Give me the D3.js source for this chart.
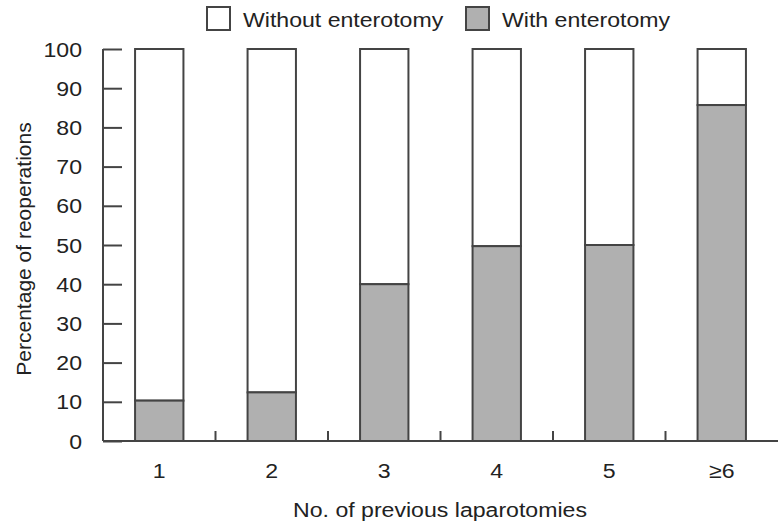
<!DOCTYPE html>
<html><head><meta charset="utf-8">
<script src="https://cdn.jsdelivr.net/npm/d3@7"></script>
<style>body{margin:0;background:#fff}svg{display:block}text{font-family:"Liberation Sans",Arial,sans-serif;fill:#222}</style>
</head><body>
<script>
const categories = ["1","2","3","4","5","\u22656"];
const withEnterotomy = [10.3, 12.4, 40, 49.7, 50, 85.7];
const withoutEnterotomy = withEnterotomy.map(v => 100 - v);
const yTicks = [0,10,20,30,40,50,60,70,80,90,100];
const seriesNames = ["Without enterotomy","With enterotomy"];

const W = 778, H = 524, FS = 21, SX = 1.1;
const svg = d3.select("body").append("svg").attr("width", W).attr("height", H);
const x = d3.scaleBand().domain(categories).range([103, 778]).paddingInner(0.57).paddingOuter(0.285);
const y = d3.scaleLinear().domain([0,100]).range([441, 49]);
const stroke = "#444";

function htext(sel, tx, ty, anchor, str) {
  return sel.append("text").attr("transform", `translate(${tx},${ty}) scale(${SX},1)`)
    .attr("text-anchor", anchor).attr("font-size", FS).text(str);
}

// bars
const g = svg.append("g");
categories.forEach((c,i) => {
  g.append("rect").attr("x", x(c)).attr("width", x.bandwidth())
    .attr("y", y(100)).attr("height", y(withEnterotomy[i]) - y(100))
    .attr("fill", "#fff").attr("stroke", stroke).attr("stroke-width", 2);
  g.append("rect").attr("x", x(c)).attr("width", x.bandwidth())
    .attr("y", y(withEnterotomy[i])).attr("height", y(0) - y(withEnterotomy[i]))
    .attr("fill", "#b0b0b0").attr("stroke", stroke).attr("stroke-width", 2);
});

// y axis
const ya = svg.append("g").attr("transform", "translate(103,0)")
  .call(d3.axisRight(y).tickValues(yTicks).tickSize(19).tickFormat(""));
ya.select(".domain").attr("stroke", stroke).attr("stroke-width", 2).attr("d", `M0,${y(100)}V${y(0)}`);
ya.selectAll(".tick line").attr("stroke", stroke).attr("stroke-width", 2);
const yl = svg.append("g");
yTicks.forEach(d => htext(yl, 82, y(d) + 7.5, "end", d));

// x axis
const step = x.step();
const bounds = categories.slice(1).map(c => x(c) - (step - x.bandwidth())/2);
svg.append("line").attr("x1", 103).attr("x2", 778).attr("y1", y(0)).attr("y2", y(0))
  .attr("stroke", stroke).attr("stroke-width", 2);
svg.append("g").selectAll("line").data(bounds).join("line")
  .attr("x1", d => d).attr("x2", d => d).attr("y1", y(0)).attr("y2", y(0) - 10)
  .attr("stroke", stroke).attr("stroke-width", 2);
const xl = svg.append("g");
categories.forEach(c => htext(xl, x(c) + x.bandwidth()/2, 478, "middle", c));

// titles
htext(svg, 440, 517, "middle", "No. of previous laparotomies");
svg.append("text").attr("transform", "translate(31,249) rotate(-90)").attr("text-anchor", "middle")
  .attr("font-size", FS).text("Percentage of reoperations");

// legend
const leg = [{x:207, fill:"#fff"}, {x:466, fill:"#b0b0b0"}];
leg.forEach((l,i) => {
  svg.append("rect").attr("x", l.x).attr("y", 7).attr("width", 23).attr("height", 23)
    .attr("fill", l.fill).attr("stroke", stroke).attr("stroke-width", 2);
  htext(svg, l.x + 36, 27, "start", seriesNames[i]);
});
</script>
</body></html>
